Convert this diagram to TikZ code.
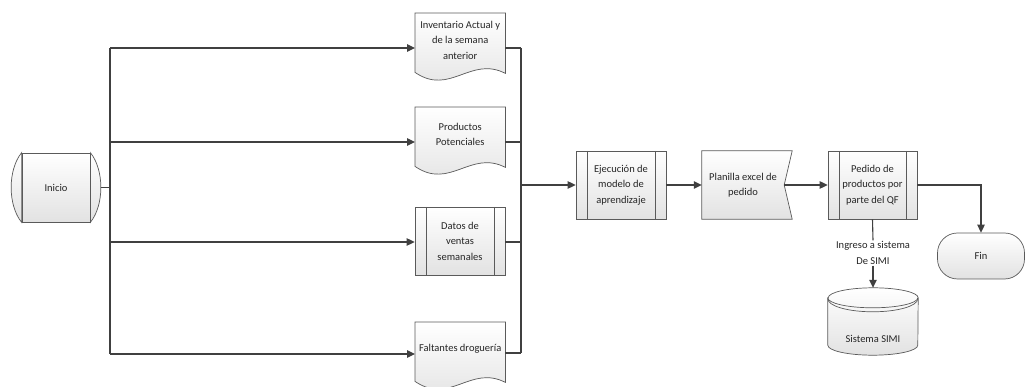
\documentclass[tikz,border=0pt]{standalone}
\usepackage{fontspec}
\setmainfont{Carlito}
\usetikzlibrary{arrows.meta,calc,backgrounds}
\definecolor{ln}{HTML}{404040}
\definecolor{bd}{HTML}{5A5A5A}
\definecolor{shadeb}{HTML}{E2E2E2}
\definecolor{txt}{HTML}{262626}
\newcommand\mydocpath[1]{(#1.north west) -- (#1.north east) -- ($(#1.south east)+(0,6)$) .. controls ($(#1.south east)+(-35,-12)$) and ($(#1.south west)+(35,29)$) .. ($(#1.south west)+(0,5)$) -- cycle}
\begin{document}
\begin{tikzpicture}[x=1pt,y=-1pt,
  every node/.style={font=\fontsize{10.5}{15.5}\selectfont, text=txt, align=center},
  conn/.style={draw=ln, line width=1.1pt},
  arr/.style={conn, -{Triangle[length=8pt,width=7.5pt]}},
  sh/.style={draw=bd, line width=0.7pt, top color=white, bottom color=shadeb},
  proc/.style={rectangle, sh, minimum width=90pt, minimum height=68pt, inner sep=0pt,
    path picture={\draw[bd,line width=0.7pt]
      ([xshift=11pt]path picture bounding box.north west) -- ([xshift=11pt]path picture bounding box.south west)
      ([xshift=-11pt]path picture bounding box.north east) -- ([xshift=-11pt]path picture bounding box.south east);}},
  docbox/.style={rectangle, minimum width=90pt, minimum height=54pt, inner sep=0pt, anchor=north west},
  plain/.style={rectangle, inner sep=0pt},
]
\useasboundingbox (0,0) rectangle (1026,387);

% Inicio
\node[rectangle, sh, minimum width=68pt, minimum height=69pt, inner sep=0pt] (ini) at (56,187.5) {Inicio};

% documents and process on the left
\node[docbox] (d1) at (415,13) {Inventario Actual y\\de la semana\\anterior};
\node[docbox] (d2) at (415,107) {Productos\\Potenciales};
\node[proc] (d3) at (460,241) {Datos de\\ventas\\semanales};
\node[docbox] (d4) at (415,322) {Faltantes droguería};

% main chain
\node[proc] (ej) at (621,185) {Ejecución de\\modelo de\\aprendizaje};
\node[plain, minimum width=82pt, minimum height=68pt] (pl) at (743,185) {Planilla excel de\\pedido};
\node[proc, minimum width=89pt] (ped) at (872.5,185) {Pedido de\\productos por\\parte del QF};
\node[rectangle, rounded corners=20pt, sh, minimum width=87pt, minimum height=46pt, inner sep=0pt] (fin) at (981,256) {Fin};
\node[plain, minimum width=90pt, minimum height=32pt] (db) at (873,339) {Sistema SIMI};
\coordinate (dbtop) at ($(db.north)+(0,-35)$);
\node[fill=white, inner sep=1pt] (lbl) at (873,253) {Ingreso a sistema\\De SIMI};

% backgrounds of custom shapes
\begin{pgfonlayer}{background}
  \shade[sh] \mydocpath{d1};
  \shade[sh] \mydocpath{d2};
  \shade[sh] \mydocpath{d4};
  \shade[sh] (ini.north west) .. controls ($(ini.north west)+(-14,17)$) and ($(ini.south west)+(-14,-17)$) .. (ini.south west) -- cycle;
  \shade[sh] (ini.north east) .. controls ($(ini.north east)+(14,17)$) and ($(ini.south east)+(14,-17)$) .. (ini.south east) -- cycle;
  \shade[sh] (pl.north west) -- ($(pl.north east)+(8,0)$) -- (pl.east) -- ($(pl.south east)+(8,0)$) -- (pl.south west) -- cycle;
  \shade[sh] ($(db.north west)+(0,-25)$) -- ($(db.south west)+(0,-10)$)
      arc[start angle=180,end angle=360,x radius=45pt,y radius=10pt]
      -- ($(db.north east)+(0,-25)$)
      arc[start angle=0,end angle=180,x radius=45pt,y radius=10pt] -- cycle;
  \draw[bd,line width=0.7pt] ($(db.north west)+(0,-25)$) arc[start angle=180,end angle=360,x radius=45pt,y radius=10pt];
  \draw[bd,line width=0.7pt] ($(db.north west)+(0,-24)$) arc[start angle=180,end angle=360,x radius=45pt,y radius=13pt];
\end{pgfonlayer}

% bus coordinates
\coordinate (bl1) at (110,48);
\coordinate (bl2) at (110,142);
\coordinate (bl3) at (110,242);
\coordinate (bl4) at (110,354);
\coordinate (br1) at (521,48);
\coordinate (br2) at (521,142);
\coordinate (br3) at (521,242);
\coordinate (br4) at (521,353);

% left bus
\draw[conn] ([xshift=10.5pt]ini.east) -- (ini.east -| bl1);
\draw[conn] (bl1) -- (bl4);
\draw[arr] (bl1) -- (bl1 -| d1.west);
\draw[arr] (bl2) -- (bl2 -| d2.west);
\draw[arr] (bl3) -- (bl3 -| d3.west);
\draw[arr] (bl4) -- (bl4 -| d4.west);

% right bus
\draw[conn] (br1 -| d1.east) -- (br1);
\draw[conn] (br2 -| d2.east) -- (br2);
\draw[conn] (br3 -| d3.east) -- (br3);
\draw[conn] (br4 -| d4.east) -- (br4);
\draw[conn] (br1) -- (br4);
\draw[arr] (br1 |- ej.west) -- (ej.west);

% chain
\draw[arr] (ej.east) -- (pl.west);
\draw[arr] (pl.east) -- (ped.west);
\draw[arr] (ped.east) -| (fin.north);
\draw[conn] (ped.south) -- (lbl.north);
\draw[arr] (lbl.south) -- (dbtop);
\end{tikzpicture}
\end{document}
